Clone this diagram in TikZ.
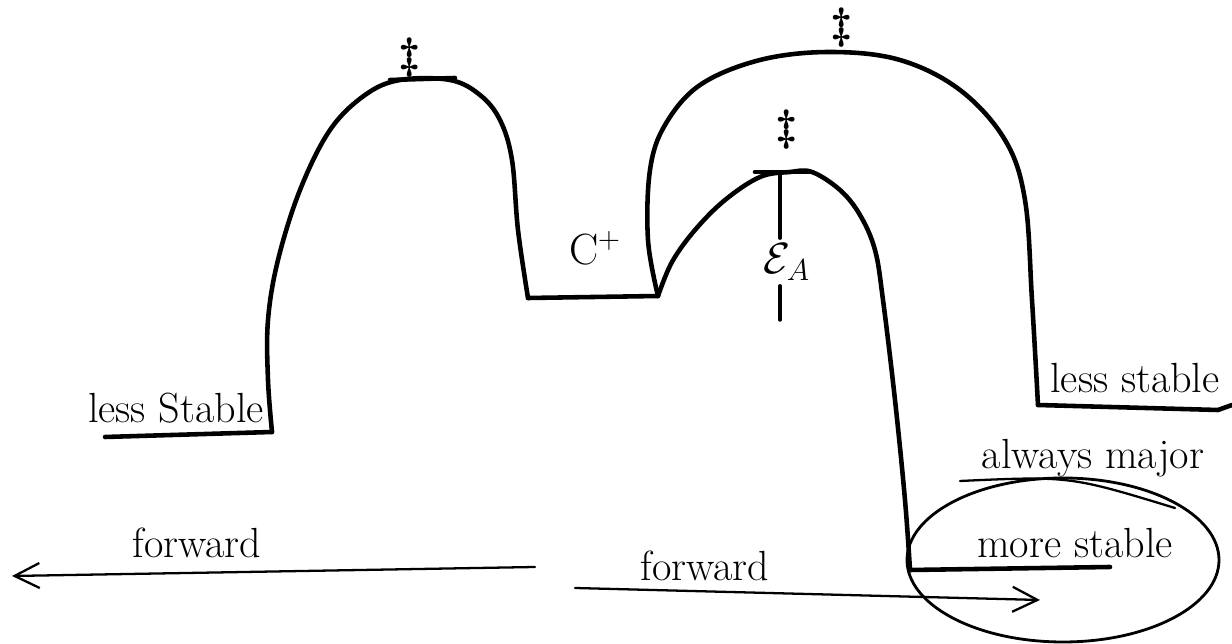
\documentclass[tikz,border=0pt]{standalone}
\usepackage{amsmath,amssymb}
\usepackage{tikz}
\usetikzlibrary{arrows.meta, positioning}

\begin{document}
\begin{tikzpicture}[x=0.02cm, y=-0.02cm, >={Straight Barb[length=5mm, width=5mm]},
    curve/.style={line width=2.6pt, line cap=round, line join=round},
    thin/.style={line width=1.3pt, line cap=round},
    hand/.style={font=\fontsize{24}{28}\selectfont, inner sep=1pt},
    dag/.style={font=\fontsize{26}{30}\selectfont, inner sep=0pt}]
      \useasboundingbox (0,0) rectangle (1232,644);
      % levels and barriers
      \draw[curve] (105,437) -- (272,432);
      \draw[curve] plot[smooth, tension=0.6] coordinates {(272,432) (268,380) (268,320) (278,260) (300,190) (330,130) (365,95) (400,80) (450,80) (480,95) (500,120) (512,160) (518,230) (528,298)};
      \draw[curve] (528,298) -- (658,296);
      \draw[curve] plot[smooth, tension=0.6] coordinates {(658,296) (672,262) (695,230) (725,200) (760,177) (790,172) (812,172) (840,190) (860,215) (875,250) (883,300) (895,400) (905,500) (910,570)};
      \draw[curve] (910,570) -- (1110,567);
      \draw[curve] plot[smooth, tension=0.6] coordinates {(658,296) (648,240) (650,170) (665,125) (700,85) (760,60) (830,52) (900,60) (960,90) (1005,140) (1025,200) (1032,300) (1038,405)};
      \draw[curve] (1038,405) -- (1218,410) -- (1232,405);
      \draw[curve] (390,80) -- (455,78);
      \coordinate (top2) at (780,172);
      \draw[curve] (755,172) -- (812,172);
      % labels
      \node[dag] (ts1) at (410,58) {$\boldsymbol{\ddagger}$};
      \node[dag] (ts2) at (787,130) {$\boldsymbol{\ddagger}$};
      \node[dag] (ts3) at (842,28) {$\boldsymbol{\ddagger}$};
      \node[hand] (cat) at (595,248) {$\mathrm{C}^{+}$};
      \node[hand, inner sep=3pt] (ea) at (787,262) {$\mathcal{E}_A$};
      \coordinate (eaend) at (780,320);
      \draw[thin, line width=2pt] (top2) -- (ea.north -| top2);
      \draw[thin, line width=2pt] (ea.south -| top2) -- (eaend);
      \node[hand] (lessL) at (176,408) {less Stable};
      \node[hand] (lessR) at (1135,378) {less stable};
      \node[hand] (more) at (1075,543) {more stable};
      \node[hand] (major) at (1093,458) {always major};
      \draw[thin] (960,481) .. controls (1070,476) .. (1175,508);
      \draw[thin, line width=1.6pt] (1063,560) ellipse [x radius=156, y radius=82];
      % reaction direction
      \coordinate (l1) at (535,567);
      \coordinate (l2) at (12,576);
      \coordinate (r1) at (575,588);
      \coordinate (r2) at (1040,600);
      \draw[thin, ->] (l1) -- (l2);
      \draw[thin, ->] (r1) -- (r2);
      \node[hand] (fwdL) at (197,543) {forward};
      \node[hand] (fwdR) at (705,566) {forward};
    \end{tikzpicture}
\end{document}
